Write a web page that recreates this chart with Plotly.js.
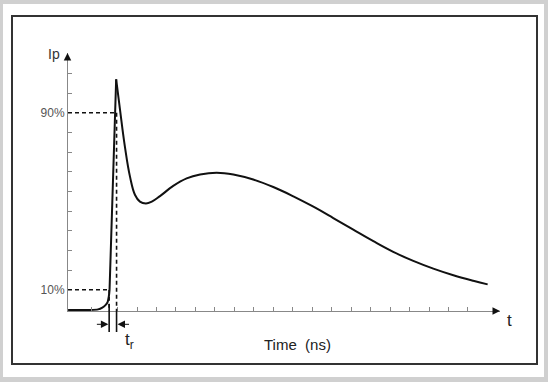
<!DOCTYPE html>
<html>
<head>
<meta charset="utf-8">
<script src="https://cdn.plot.ly/plotly-3.0.1.min.js"></script>
<style>html,body{margin:0;padding:0;background:#d0d0d0;}#chart{width:548px;height:382px;}</style>
</head>
<body>
<div id="chart"></div>
<script>
// ---- data (time in ns, current in % of peak scale) ----
const riseTime  = [0.46, 1.59, 2.00, 2.22, 2.38, 2.49, 2.55, 2.59, 2.93];
const riseLevel = [0.8, 0.8, 1.1, 1.9, 3.0, 4.4, 6.8, 9.9, 105.1];
const decayTime  = [2.93, 3.13, 3.38, 3.64, 3.90, 4.15, 4.46, 4.76, 5.18, 5.86, 6.55, 7.24, 8.09, 8.95, 9.97, 11.0, 12.03, 13.06, 14.08, 15.11, 16.14, 17.16, 18.19, 19.22, 20.25, 21.27, 22.01];
const decayLevel = [105.1, 91.2, 74.6, 61.1, 52.8, 49.8, 49.0, 49.8, 52.3, 56.9, 60.3, 62.1, 62.9, 62.1, 59.8, 56.4, 52.2, 47.5, 42.4, 37.1, 31.9, 27.1, 23.0, 19.5, 16.5, 14.0, 12.4];
const levels = [10, 90];
const crossTimes = [2.57, 2.95];
const xTicks = [1.64, 3, 4, 5, 6, 7, 8, 9, 10, 11, 12, 13, 14, 15, 16, 17, 18, 19, 20, 21];
const yTicks = [10, 18.89, 27.78, 36.67, 45.56, 54.44, 63.33, 72.22, 81.11, 90, 98.89, 107.78];
const yTickText = ['10%', '', '', '', '', '', '', '', '', '90%', '', ''];
const xRange = [0.456, 22.644];
const yRange = [0.36, 117];

// ---- layout helpers (pixel -> paper) ----
const W = 548, H = 382, ML = 68, MR = 48, MT = 53, MB = 71;
const PW = W - ML - MR, PH = H - MT - MB;
const px = v => (v - ML) / PW;
const py = v => (H - MB - v) / PH;
const FONT = 'Liberation Sans, Arial, Helvetica, sans-serif';

const traces = [
  {x: riseTime, y: riseLevel, mode: 'lines', line: {color: '#111', width: 2, shape: 'spline', smoothing: 0.4}, hoverinfo: 'skip'},
  {x: decayTime, y: decayLevel, mode: 'lines', line: {color: '#111', width: 2, shape: 'spline', smoothing: 1.2}, hoverinfo: 'skip'}
];

const dash = '4px,3px';
const shapes = [
  {type: 'rect', xref: 'paper', yref: 'paper', x0: px(3), x1: px(544), y0: py(4), y1: py(377), fillcolor: '#ffffff', line: {width: 0}, layer: 'below'},
  {type: 'rect', xref: 'paper', yref: 'paper', x0: px(12), x1: px(537), y0: py(16), y1: py(364), fillcolor: 'rgba(0,0,0,0)', line: {color: '#333', width: 2}, layer: 'below'}
];
levels.forEach((lv, i) => {
  shapes.push({type: 'line', xref: 'x', yref: 'y', x0: xRange[0], x1: crossTimes[i], y0: lv, y1: lv, line: {color: '#111', width: 1.6, dash: dash}});
  shapes.push({type: 'line', xref: 'x', yref: 'y', x0: crossTimes[i], x1: crossTimes[i], y0: lv, y1: yRange[0], line: {color: '#111', width: 1.6, dash: dash}});
});
shapes.push({type: 'line', xref: 'x', yref: 'paper', x0: crossTimes[0], x1: crossTimes[0], y0: py(304), y1: py(332), line: {color: '#111', width: 1.6}});
shapes.push({type: 'line', xref: 'x', yref: 'paper', x0: crossTimes[1], x1: crossTimes[1], y0: py(311), y1: py(332), line: {color: '#111', width: 1.6}});

const arrowBase = {text: ' ', showarrow: true, arrowhead: 2, arrowsize: 1.5, arrowwidth: 1, arrowcolor: '#111', standoff: 0, startstandoff: 0, font: {size: 1}};
const annotations = [
  Object.assign({}, arrowBase, {xref: 'paper', yref: 'paper', x: 1, y: 0, ax: -8, ay: 0}),
  Object.assign({}, arrowBase, {xref: 'paper', yref: 'paper', x: -0.5 / PW, y: 1, ax: 0, ay: 8}),
  Object.assign({}, arrowBase, {xref: 'x', yref: 'paper', x: crossTimes[0] - 0.04, y: py(324.3), ax: -13, ay: 0}),
  Object.assign({}, arrowBase, {xref: 'x', yref: 'paper', x: crossTimes[1] + 0.05, y: py(324.3), ax: 13, ay: 0}),
  {xref: 'paper', yref: 'paper', x: px(54), y: py(54), text: 'Ip', showarrow: false, font: {family: FONT, size: 14, color: '#333'}, xanchor: 'center', yanchor: 'middle'},
  {xref: 'paper', yref: 'paper', x: px(509.5), y: py(320), text: 't', showarrow: false, font: {family: FONT, size: 17, color: '#222'}, xanchor: 'center', yanchor: 'middle'},
  {xref: 'paper', yref: 'paper', x: px(129.5), y: py(341), text: 't<sub>r</sub>', showarrow: false, font: {family: FONT, size: 17, color: '#222'}, xanchor: 'center', yanchor: 'middle'},
  {xref: 'paper', yref: 'paper', x: px(297.5), y: py(344), text: 'Time&nbsp; (ns)', showarrow: false, font: {family: FONT, size: 15, color: '#222'}, xanchor: 'center', yanchor: 'middle'}
];

const layout = {
  width: W, height: H,
  margin: {l: ML, r: MR, t: MT, b: MB, pad: 0},
  paper_bgcolor: '#d0d0d0',
  plot_bgcolor: 'rgba(0,0,0,0)',
  showlegend: false,
  xaxis: {range: xRange, showgrid: false, zeroline: false, showline: true, linecolor: '#888', linewidth: 1,
          ticks: 'inside', ticklen: 4, tickwidth: 1, tickcolor: '#888', tickmode: 'array', tickvals: xTicks, showticklabels: false, fixedrange: true},
  yaxis: {range: yRange, showgrid: false, zeroline: false, showline: true, linecolor: '#888', linewidth: 1,
          ticks: 'inside', ticklen: 4, tickwidth: 1, tickcolor: '#888', tickmode: 'array', tickvals: yTicks, ticktext: yTickText,
          tickfont: {family: FONT, size: 12, color: '#555'}, fixedrange: true},
  shapes: shapes,
  annotations: annotations
};

Plotly.newPlot('chart', traces, layout, {displayModeBar: false, staticPlot: true});
</script>
</body>
</html>
